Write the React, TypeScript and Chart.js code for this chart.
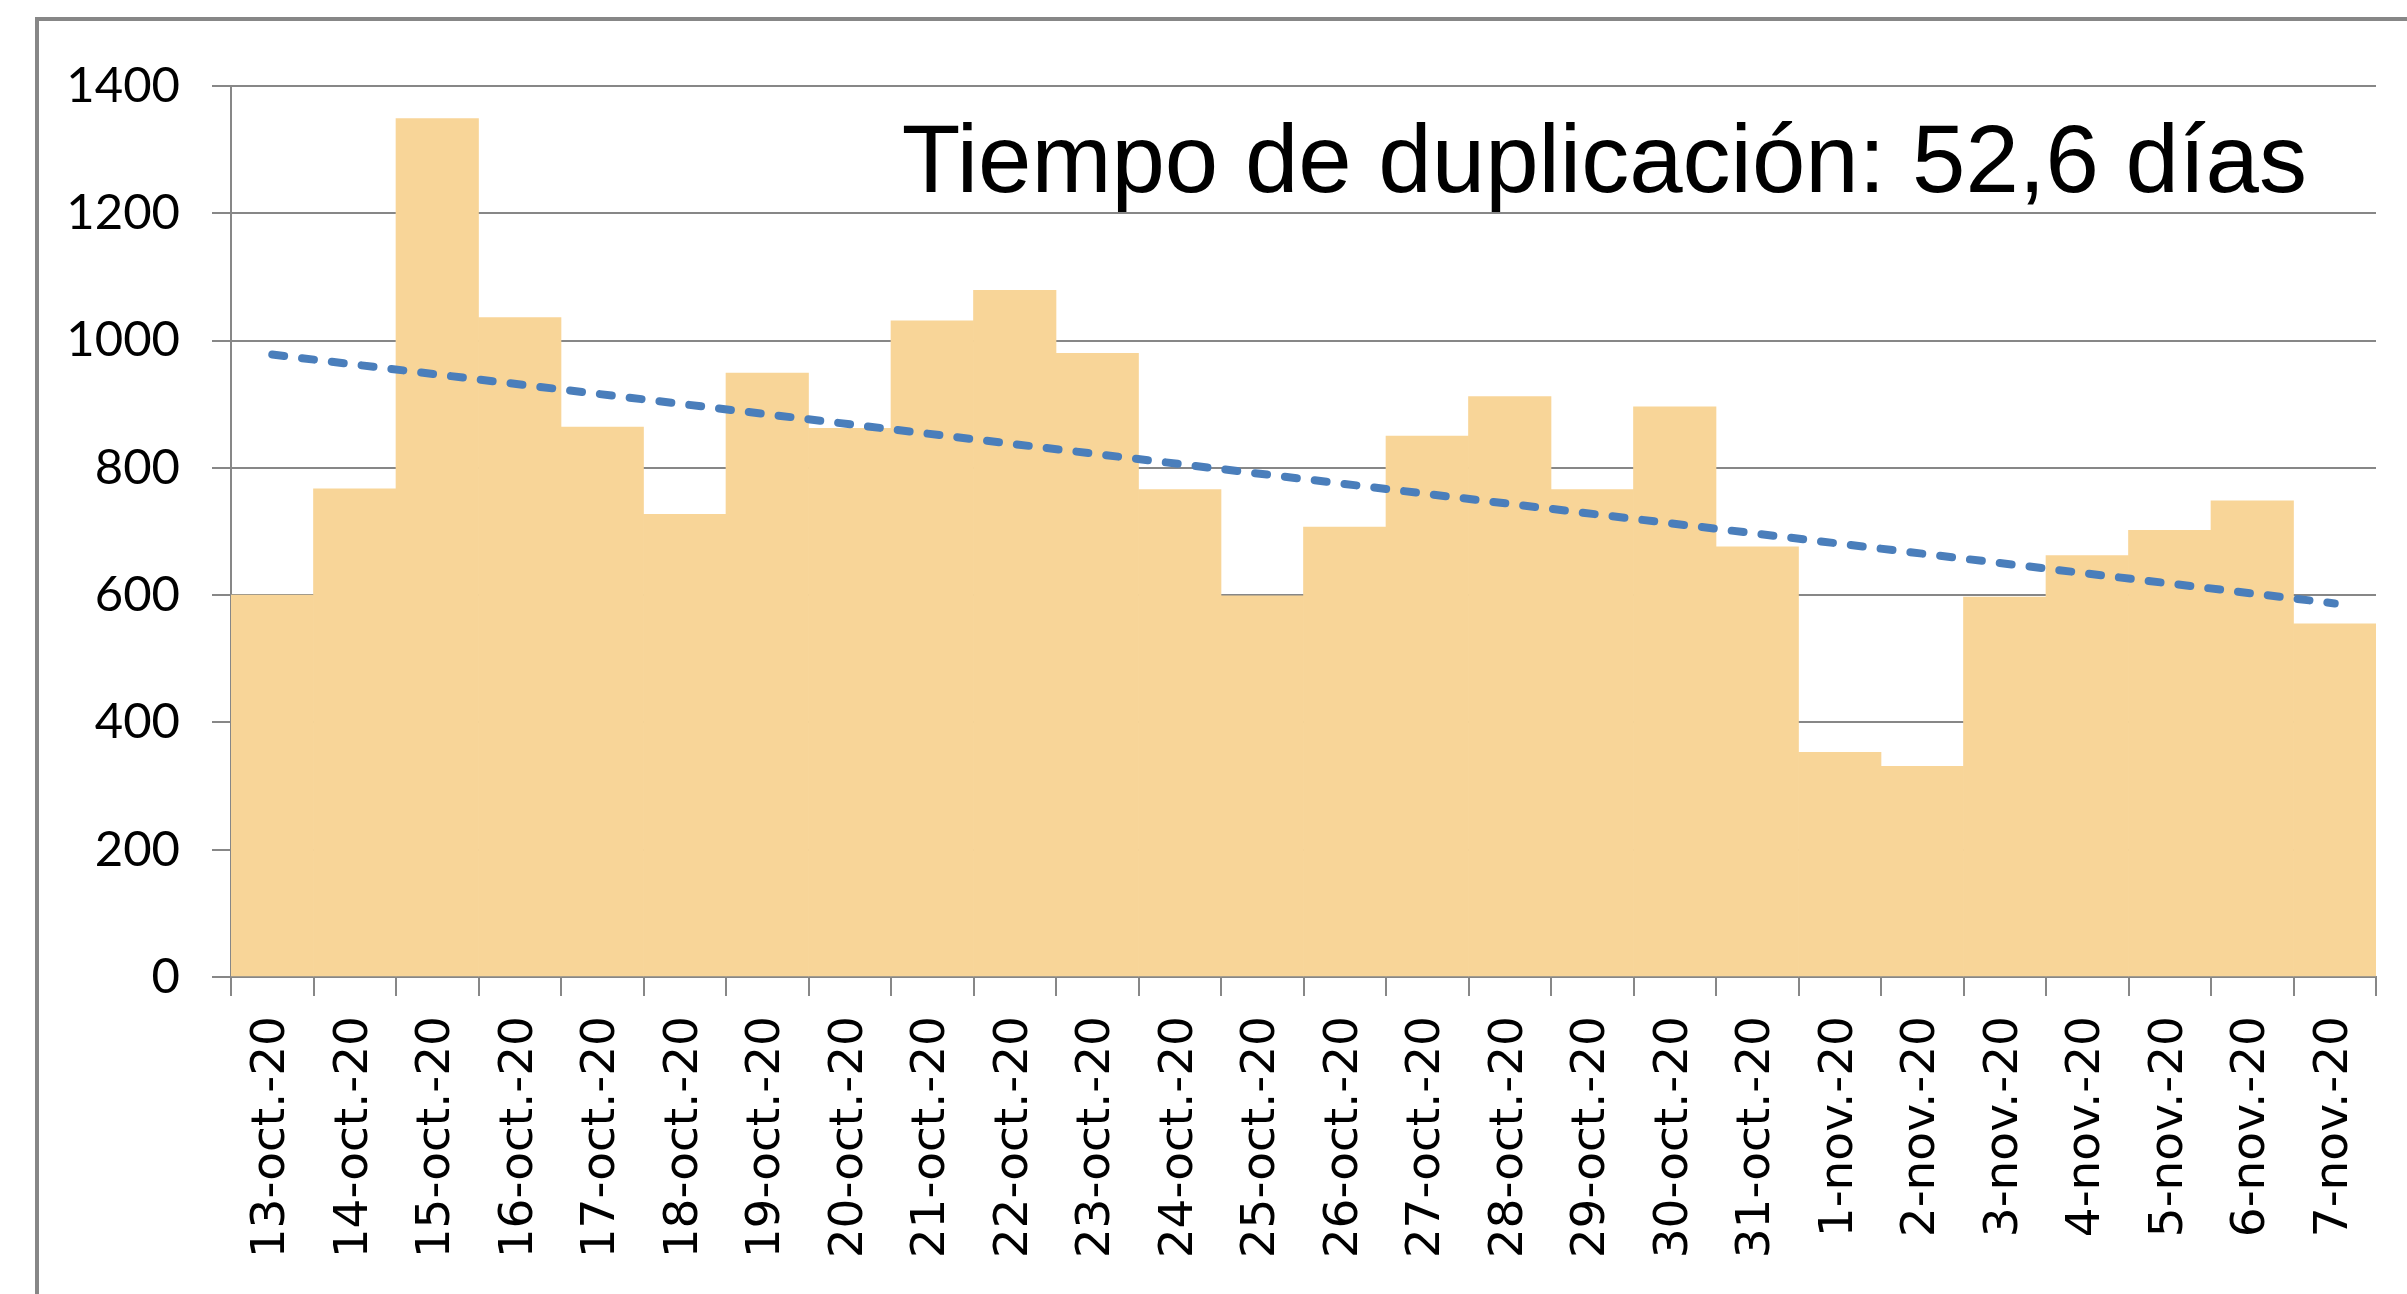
import React, { useEffect, useRef } from "react";
import { Chart, registerables } from "chart.js";

Chart.register(...registerables);

const categories: string[] = [
  "13-oct.-20", "14-oct.-20", "15-oct.-20", "16-oct.-20", "17-oct.-20",
  "18-oct.-20", "19-oct.-20", "20-oct.-20", "21-oct.-20", "22-oct.-20",
  "23-oct.-20", "24-oct.-20", "25-oct.-20", "26-oct.-20", "27-oct.-20",
  "28-oct.-20", "29-oct.-20", "30-oct.-20", "31-oct.-20", "1-nov.-20",
  "2-nov.-20", "3-nov.-20", "4-nov.-20", "5-nov.-20", "6-nov.-20", "7-nov.-20",
];

const dailyCases: number[] = [
  600, 767, 1349, 1036, 864, 727, 949, 862, 1031, 1079, 980, 766, 599,
  707, 850, 912, 766, 896, 676, 353, 331, 597, 662, 702, 748, 555,
];

// Trend line endpoints (first and last category)
const trendStart = 978;
const trendEnd = 587;

const yTickValues: number[] = [0, 200, 400, 600, 800, 1000, 1200, 1400];

const annotationText = "Tiempo de duplicación: 52,6 días";

const W = 2407;
const H = 1294;

export default function App() {
  const ref = useRef<HTMLCanvasElement | null>(null);

  useEffect(() => {
    if (!ref.current) return;
    const textPlugin = {
      id: "cornerText",
      afterDatasetsDraw(chart: any) {
        const { ctx, chartArea } = chart;
        ctx.save();
        ctx.font = '96px "Liberation Sans", Arial, sans-serif';
        ctx.fillStyle = "#000";
        ctx.textAlign = "right";
        ctx.textBaseline = "alphabetic";
        ctx.fillText(annotationText, chartArea.right - 69, chartArea.top + 106);
        ctx.restore();
      },
    };

    const gridColor = "#878787";

    const chart = new Chart(ref.current, {
      type: "bar",
      data: {
        labels: categories,
        datasets: [
          {
            type: "line",
            label: "Tendencia",
            data: [
              { x: categories[0], y: trendStart },
              { x: categories[categories.length - 1], y: trendEnd },
            ] as any,
            borderColor: "#4A7EBB",
            borderWidth: 8,
            borderDash: [12, 18],
            borderCapStyle: "round",
            pointRadius: 0,
            fill: false,
            tension: 0,
            order: 0,
          } as any,
          {
            type: "bar",
            label: "Casos",
            data: dailyCases,
            backgroundColor: "#F8D598",
            borderWidth: 0,
            barPercentage: 1,
            categoryPercentage: 1,
            order: 1,
          },
        ],
      },
      options: {
        responsive: false,
        animation: false,
        devicePixelRatio: 1,
        layout: { padding: { top: 86, right: 31, left: 0, bottom: 0 } },
        plugins: {
          legend: { display: false },
          tooltip: { enabled: false },
          title: { display: false },
        },
        scales: {
          x: {
            type: "category",
            offset: true,
            afterFit(scale: any) {
              scale.height = H - 977;
              scale.paddingLeft = 0;
              scale.paddingRight = 0;
            },
            grid: {
              display: true,
              drawOnChartArea: false,
              drawTicks: true,
              tickLength: 19,
              color: gridColor,
              lineWidth: 2,
              offset: true,
            },
            border: { display: true, color: gridColor, width: 2 },
            ticks: {
              autoSkip: false,
              minRotation: 90,
              maxRotation: 90,
              padding: 20,
              color: "#000",
              font: { family: '"DejaVu Sans", Verdana, sans-serif', size: 47 },
            },
          },
          y: {
            min: 0,
            max: 1400,
            afterFit(scale: any) {
              scale.width = 231;
            },
            afterBuildTicks(scale: any) {
              scale.ticks = yTickValues.map((v) => ({ value: v }));
            },
            grid: {
              color: gridColor,
              lineWidth: 2,
              drawTicks: true,
              tickLength: 19,
            },
            border: { display: true, color: gridColor, width: 2 },
            ticks: {
              padding: 32,
              color: "#000",
              font: { family: "Lato, Calibri, sans-serif", size: 49 },
              callback: (v: any) => String(v),
            },
          },
        },
      },
      plugins: [textPlugin],
    } as any);

    return () => chart.destroy();
  }, []);

  return (
    <div
      style={{
        position: "fixed",
        left: 0,
        top: 0,
        width: W,
        height: H,
        overflow: "hidden",
        background: "#fff",
      }}
    >
      <div
        style={{
          position: "absolute",
          left: 35,
          top: 17,
          width: 2600,
          height: 1500,
          border: "4px solid #878787",
          boxSizing: "border-box",
        }}
      />
      <canvas
        ref={ref}
        width={W}
        height={H}
        style={{ position: "absolute", left: 0, top: 0, display: "block" }}
      />
    </div>
  );
}
